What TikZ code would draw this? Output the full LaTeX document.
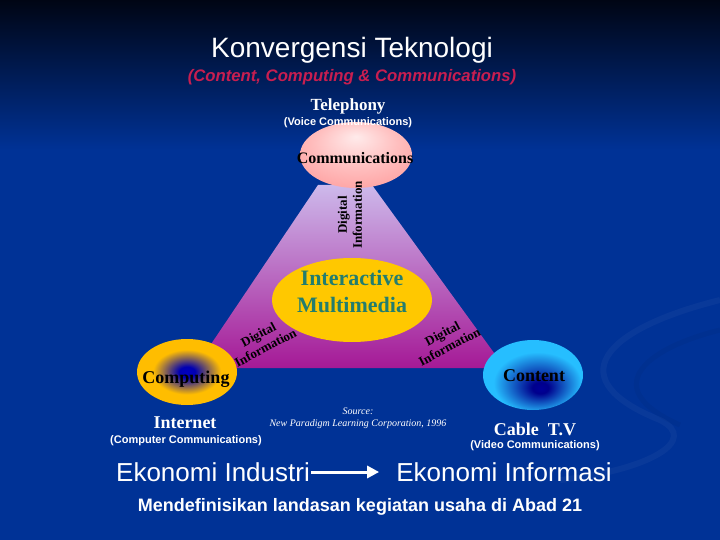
\documentclass[tikz,border=0pt]{standalone}
\usepackage{fontspec}
\setmainfont{Liberation Serif}
\setsansfont{Liberation Sans}
\usetikzlibrary{shapes.geometric,arrows.meta}
\definecolor{bgblue}{RGB}{0,50,150}
\definecolor{bgtop}{RGB}{0,5,20}
\definecolor{subred}{RGB}{200,30,80}
\definecolor{imyellow}{RGB}{255,200,0}
\definecolor{imteal}{RGB}{35,125,110}
\definecolor{trimag}{RGB}{165,25,150}
\definecolor{trilav}{RGB}{205,185,235}
\pgfdeclareradialshading{commsh}{\pgfpoint{0bp}{14bp}}{color(0bp)=(red!8!white); color(18bp)=(red!25!white); color(50bp)=(red!50!white)}
\pgfdeclareradialshading{compsh}{\pgfpoint{0bp}{0bp}}{color(0bp)=(blue!75!black); color(4bp)=(blue!70!black); color(17bp)=(imyellow!85!orange); color(50bp)=(imyellow!85!orange)}
\pgfdeclareradialshading{contsh}{\pgfpoint{4bp}{-10bp}}{color(0bp)=(blue!60!black); color(4bp)=(blue!55!black); color(22bp)=(cyan!70!blue!85!white); color(50bp)=(cyan!70!blue!85!white)}
\begin{document}
\begin{tikzpicture}[x=1pt, y=-1pt]

\tikzstyle{every node} = [inner sep=1pt]
\tikzstyle{blob} = [ellipse, minimum width=100pt, minimum height=66pt]
\tikzstyle{blobtext} = [font=\fontsize{18}{20}\selectfont\bfseries]
\tikzstyle{captext} = [text=white, font=\fontsize{18}{20}\selectfont\bfseries]
\tikzstyle{subtext} = [text=white, font=\sffamily\fontsize{11}{13}\selectfont\bfseries]
\tikzstyle{digi} = [align=center, font=\fontsize{13}{15}\selectfont\bfseries]
\tikzstyle{eko} = [text=white, font=\sffamily\fontsize{26}{28}\selectfont]

\useasboundingbox (0,0) rectangle (720,540);
\fill[bgblue] (0,0) rectangle (720,540);
\shade[top color=bgtop, bottom color=bgblue] (0,0) rectangle (720,150);
\draw[white, opacity=.035, line width=6pt] (720,300) .. controls (600,330) and (560,380) .. (660,420) .. controls (700,440) and (650,470) .. (560,480);
\draw[black, opacity=.04, line width=5pt] (720,330) .. controls (640,350) and (600,390) .. (680,425);

\shade[top color=trilav, middle color=white, bottom color=trimag]
  (318,185) -- (372,185) -- (505,368) -- (195,368) -- cycle;

\node[blob, shading=commsh, minimum width=112pt] (c) at (356,155) {};
\node[font=\fontsize{16}{18}\selectfont\bfseries] (cl) at (355,158) {Communications};

\node (t) at (352,50) {\sffamily\fontsize{28}{30}\selectfont\color{white}Konvergensi Teknologi};
\node (u) at (352,77) {\sffamily\fontsize{16.7}{18}\selectfont\bfseries\itshape\color{subred}(Content, Computing \& Communications)};

\node[captext, font=\fontsize{17}{19}\selectfont\bfseries] (h) at (348,106) {Telephony};
\node[subtext] (v) at (348,123) {(Voice Communications)};

\node[digi, rotate=90] (d) at (350,215) {Digital\\Information};

\node[ellipse, fill=imyellow, minimum width=160pt, minimum height=84pt] (m) at (352,300) {};
\node[align=center, text=imteal, font=\fontsize{22}{27}\selectfont\bfseries] (ml) at (352,292) {Interactive\\Multimedia};

\node[digi, rotate=28] (dl) at (262,341) {Digital\\Information};
\node[digi, rotate=28] (dr) at (446,340) {Digital\\Information};

\node[blob, shading=compsh] (p) at (187,372) {};
\node[blobtext] (pl) at (186,379) {Computing};

\node[blob, shading=contsh, minimum height=70pt] (n) at (533,375) {};
\node[blobtext] (nl) at (534,376) {Content};

\node[captext] (i) at (185,423) {Internet};
\node[subtext] (ic) at (186,441) {(Computer Communications)};

\node[text=white, font=\fontsize{10}{12}\selectfont\itshape, align=center] (s) at (358,418) {Source:\\New Paradigm Learning Corporation, 1996};

\node[captext] (k) at (535,429) {Cable \ T.V};
\node[subtext] (kc) at (535,446) {(Video Communications)};

\node[eko] (a) at (213,472) {Ekonomi Industri};
\node[eko] (b) at (504,472) {Ekonomi Informasi};

\node[text=white, font=\sffamily\fontsize{18}{20}\selectfont\bfseries] (z) at (360,507) {Mendefinisikan landasan kegiatan usaha di Abad 21};

\draw[white, line width=3pt, shorten >=16pt, -{Triangle[length=12pt, width=12pt]}] (a) -- (b);

\end{tikzpicture}
\end{document}
